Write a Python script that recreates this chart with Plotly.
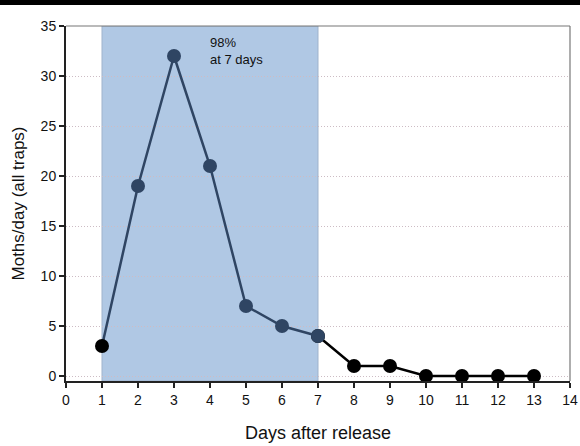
import plotly.graph_objects as go

days = [1, 2, 3, 4, 5, 6, 7, 8, 9, 10, 11, 12, 13]
moths = [3, 19, 32, 21, 7, 5, 4, 1, 1, 0, 0, 0, 0]
shade_start, shade_end = 1, 7
annot_text = "98%<br>at 7 days"

dark_blue = "#2f4563"
black = "#000000"

in_x = [d for d in days if d <= shade_end]
in_y = [m for d, m in zip(days, moths) if d <= shade_end]
out_x = [d for d in days if d >= shade_end]
out_y = [m for d, m in zip(days, moths) if d >= shade_end]

fig = go.Figure()
fig.add_trace(go.Scatter(x=out_x, y=out_y, mode="lines+markers",
                         line=dict(color=black, width=2.5),
                         marker=dict(color=black, size=14),
                         showlegend=False, hoverinfo="skip"))
fig.add_trace(go.Scatter(x=in_x, y=in_y, mode="lines+markers",
                         line=dict(color=dark_blue, width=2.5),
                         marker=dict(color=[black if d == shade_start else dark_blue for d in in_x], size=14),
                         showlegend=False, hoverinfo="skip"))

fig.add_shape(type="rect", xref="x", yref="y", x0=shade_start, x1=shade_end, y0=-0.5, y1=35,
              fillcolor="#b0c8e4", line=dict(color="#9fb3cc", width=1), layer="below")
# frame top/right
fig.add_shape(type="line", xref="paper", yref="paper", x0=0, x1=1, y0=1, y1=1,
              line=dict(color="#777777", width=1.2))
fig.add_shape(type="line", xref="paper", yref="paper", x0=1, x1=1, y0=0, y1=1,
              line=dict(color="#777777", width=1.2))
# black band at top of image
fig.add_shape(type="rect", xref="paper", yref="paper", x0=-0.2, x1=1.1, y0=1 + 21/355, y1=1.1,
              fillcolor="black", line=dict(width=0))

fig.add_annotation(x=3.94, y=32.5, xref="x", yref="y", text=annot_text, showarrow=False,
                   xanchor="left", yanchor="middle", align="left",
                   font=dict(family="Liberation Sans, Arial", size=13, color="#111111"))

fig.update_xaxes(range=[0, 14], tickmode="linear", tick0=0, dtick=1,
                 showline=True, linecolor="#222222", linewidth=2,
                 ticks="outside", ticklen=5, tickcolor="#222222", tickwidth=1.5,
                 showgrid=False, zeroline=False, automargin=False,
                 title=dict(text="Days after release", font=dict(size=18, color="#111111"), standoff=20),
                 tickfont=dict(size=14, color="#111111"))
fig.update_yaxes(range=[-0.5, 35], tickmode="array", tickvals=[0, 5, 10, 15, 20, 25, 30, 35],
                 showline=True, linecolor="#222222", linewidth=2,
                 ticks="outside", ticklen=5, tickcolor="#222222", tickwidth=1.5,
                 showgrid=True, gridcolor="#cdbcc4", griddash="1px,2px", gridwidth=1,
                 zeroline=False, automargin=False,
                 title=dict(text="Moths/day (all traps)", font=dict(size=17, color="#111111"), standoff=12),
                 tickfont=dict(size=14, color="#111111"))

fig.update_layout(width=580, height=446, margin=dict(l=66, r=10, t=26, b=65),
                  paper_bgcolor="white", plot_bgcolor="white",
                  font=dict(family="Liberation Sans, Arial"))

fig.write_html("out.html", config={"displayModeBar": False},
               post_script="document.body.style.margin='0';document.body.style.overflow='hidden';")
